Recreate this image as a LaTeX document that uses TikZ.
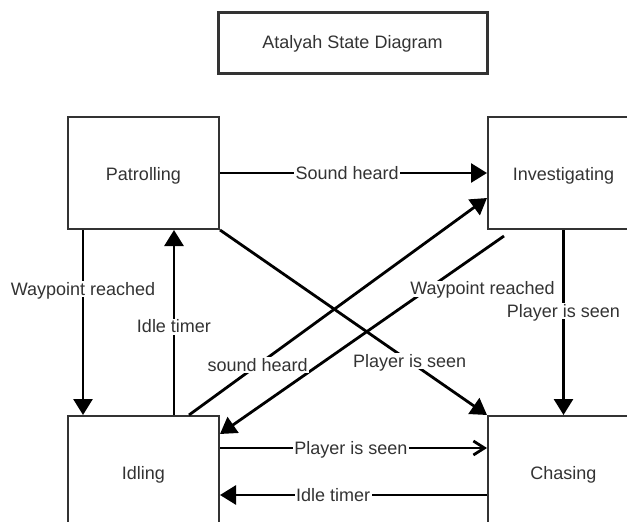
\documentclass[tikz,border=0pt]{standalone}
\usepackage{fontspec}
\setmainfont{Liberation Sans}
\usetikzlibrary{arrows.meta,calc}
\begin{document}
\begin{tikzpicture}[x=1pt,y=-1pt,
  txt/.style={text=black!80, font=\fontsize{18}{21}\selectfont},
  state/.style={txt, draw=black!80, line width=2pt, minimum width=151pt, minimum height=112pt, inner sep=0pt, text height=14pt, text depth=0pt},
  titlebox/.style={txt, draw=black!80, line width=3pt, minimum width=269pt, minimum height=61pt, inner sep=0pt, text height=11.6pt, text depth=0pt},
  edge/.style={line width=2.8pt, -{Triangle[length=16pt,width=19pt]}},
  openedge/.style={line width=2.8pt, -{Straight Barb[length=11pt,width=14pt]}},
  lbl/.style={txt, fill=white, inner sep=1.5pt, text height=12.5pt, text depth=0.5pt},
]
\useasboundingbox (0,0) rectangle (627,522);
\clip (0,0) rectangle (627,522);

\node[titlebox] (title) at (352.5,42.5) {Atalyah State Diagram};
\node[state] (pat) at (143.5,173) {Patrolling};
\node[state] (inv) at (563.5,173) {Investigating};
\node[state] (idl) at (143.5,472) {Idling};
\node[state] (cha) at (563.5,472) {Chasing};

% Investigating -> Idling
\draw[edge] ([xshift=17pt,yshift=-6pt]inv.south west) -- node[lbl,pos=0.266,xshift=54pt] {Waypoint reached} ([yshift=-19pt]idl.north east);
% Patrolling -> Investigating
\draw[edge] (pat.east) -- node[lbl,pos=0.476] {Sound heard} (inv.west);
% Patrolling -> Idling
\draw[edge] ([xshift=16pt]pat.south west) -- node[lbl,pos=0.32] {Waypoint reached} ([xshift=16pt]idl.north west);
% Idling -> Patrolling
\draw[edge] ([xshift=107pt]idl.north west) -- node[lbl,pos=0.476] {Idle timer} ([xshift=107pt]pat.south west);
% Patrolling -> Chasing
\draw[edge] (pat.south east) -- node[lbl,pos=0.71] {Player is seen} (cha.north west);
% Idling -> Investigating
\draw[edge] ([xshift=122pt]idl.north west) -- node[lbl,pos=0.23] {sound heard} ([yshift=-25pt]inv.west);
% Investigating -> Chasing
\draw[edge] (inv.south) -- node[lbl,pos=0.44] {Player is seen} (cha.north);
% Idling -> Chasing
\draw[openedge] ([yshift=-33pt]idl.north east) -- node[lbl,pos=0.49] {Player is seen} ([yshift=-33pt]cha.north west);
% Chasing -> Idling
\draw[edge] ([yshift=-80pt]cha.north west) -- node[lbl,pos=0.576] {Idle timer} ([yshift=-80pt]idl.north east);
\end{tikzpicture}
\end{document}
